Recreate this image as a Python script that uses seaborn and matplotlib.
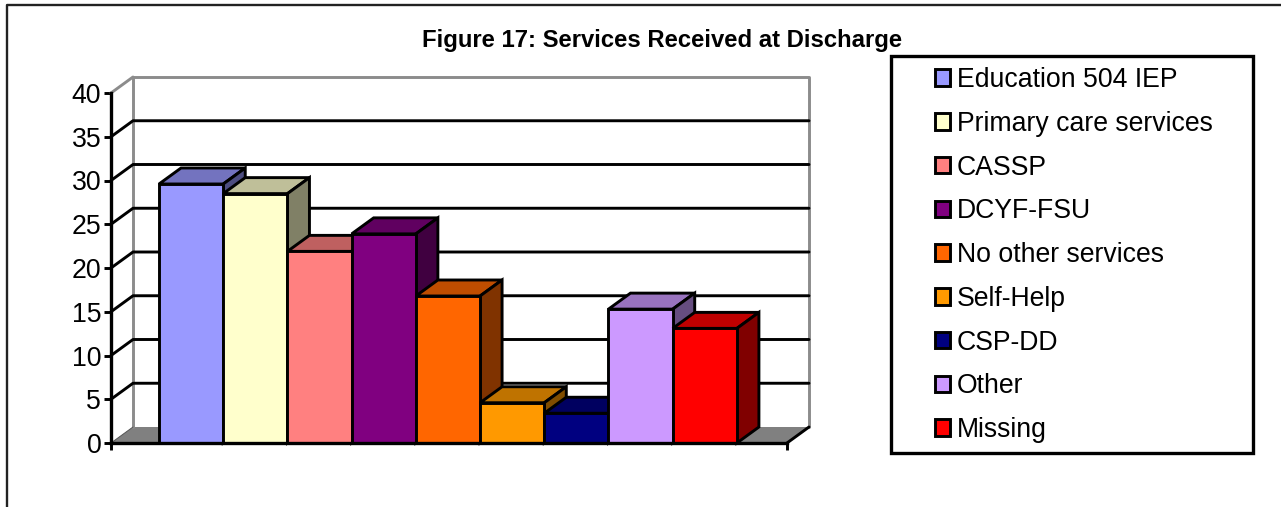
import numpy as np
import pandas as pd
import matplotlib
matplotlib.use("Agg")
import matplotlib.pyplot as plt
from matplotlib.colors import to_rgb
from matplotlib.patches import Patch, Rectangle
from matplotlib.lines import Line2D
import seaborn as sns

services = ["Education 504 IEP", "Primary care services", "CASSP", "DCYF-FSU",
            "No other services", "Self-Help", "CSP-DD", "Other", "Missing"]
percent = [29.6, 28.5, 21.9, 23.9, 16.8, 4.6, 3.4, 15.3, 13.1]
colors = ["#9999FF", "#FFFFCC", "#FF8080", "#800080", "#FF6600",
          "#FF9900", "#000080", "#CC99FF", "#FF0000"]
yticks = [0, 5, 10, 15, 20, 25, 30, 35, 40]

W, H = 1281, 507
LW = 2.1

sns.set_style("white")
plt.rcParams["font.family"] = ["Liberation Sans", "DejaVu Sans"]

fig = plt.figure(figsize=(W / 100, H / 100), dpi=100)
# axes = front plane of the fake 3d box
ax = fig.add_axes([111 / W, 1 - 443 / H, 676 / W, 350 / H])

df = pd.DataFrame({"service": services, "percent": percent})
sns.barplot(data=df, x="service", y="percent", hue="service", palette=colors,
            width=1, dodge=False, legend=False, saturation=1,
            edgecolor="black", linewidth=LW, ax=ax, zorder=5)

x0, x1 = -1.248, 9.28
ax.set_xlim(x0, x1)
ax.set_ylim(0, 40)
dx = 22 * (x1 - x0) / 676   # depth offset in data units
dy = 16 * 40 / 350

# back wall and floor
ax.fill([x0, x0 + dx, x1 + dx, x1], [0, dy, dy, 0], color="#808080", lw=0,
        clip_on=False, zorder=1)
ax.plot([x0 + dx, x0 + dx, x1 + dx, x1 + dx], [dy, 40 + dy, 40 + dy, dy],
        color="#8C8C8C", lw=LW, clip_on=False, zorder=2)
ax.plot([x0, x0 + dx], [40, 40 + dy], color="#8C8C8C", lw=LW, clip_on=False, zorder=2)
ax.plot([x0, x0 + dx], [0, dy], color="#555555", lw=0.7, clip_on=False, zorder=2)
ax.plot([x1, x1 + dx], [0, dy], color="black", lw=LW, clip_on=False, zorder=2)
for v in yticks[1:-1]:
    ax.plot([x0, x0 + dx, x1 + dx], [v, v + dy, v + dy], color="black", lw=LW,
            clip_on=False, zorder=2)

# top and side faces, painted left to right so the next bar covers the last one
z = 5
for bar, col in zip(ax.patches, colors):
    rgb = np.array(to_rgb(col))
    left, right, h = bar.get_x(), bar.get_x() + bar.get_width(), bar.get_height()
    ax.fill([left, left + dx, right + dx, right], [h, h + dy, h + dy, h],
            facecolor=rgb * 0.75, edgecolor="black", lw=LW, zorder=z,
            joinstyle="miter", clip_on=False)
    ax.fill([right, right + dx, right + dx, right], [0, dy, h + dy, h],
            facecolor=rgb * 0.5, edgecolor="black", lw=LW, zorder=z,
            joinstyle="miter", clip_on=False)
    bar.set_zorder(z + 0.5)
    bar.set_joinstyle("miter")
    z += 1

ax.set_xlabel("")
ax.set_ylabel("")
ax.set_xticks([x0, x1])
ax.set_xticklabels(["", ""])
ax.set_yticks(yticks)
ax.tick_params(axis="both", length=5, width=LW, color="black", left=True, bottom=True)
ax.tick_params(axis="y", labelsize=19.2, pad=2, labelcolor="black")
for side in ["top", "right"]:
    ax.spines[side].set_visible(False)
for side in ["left", "bottom"]:
    ax.spines[side].set_color("black")
    ax.spines[side].set_linewidth(2.4)
    ax.spines[side].set_zorder(30)

fig.text(662 / W, 1 - 41 / H, "Figure 17: Services Received at Discharge",
         ha="center", va="center", fontsize=17.2, fontweight="bold", color="black")

# outer chart frame, cut off by the image edge
fig.add_artist(Line2D([7 / W, 7 / W, 1], [0, 1 - 5 / H, 1 - 5 / H], color="#222222", lw=1.7))

# legend box
fig.add_artist(Rectangle((891 / W, 1 - 453 / H), 362 / W, 397 / H, transform=fig.transFigure,
                         facecolor="white", edgecolor="black", lw=2.4, joinstyle="miter"))
handles = [Patch(facecolor=c, edgecolor="black", lw=LW, label=s)
           for c, s in zip(colors, services)]
leg = fig.legend(handles=handles, loc="upper left", bbox_to_anchor=(934.5 / W, 1 - 67 / H),
                 bbox_transform=fig.transFigure, frameon=False, fontsize=19.2,
                 labelcolor="black", handlelength=0.58, handleheight=0.58, handletextpad=0.26,
                 labelspacing=0.666, borderpad=0, borderaxespad=0)
leg.set_zorder(10)

fig.savefig("out.png", dpi=100)
